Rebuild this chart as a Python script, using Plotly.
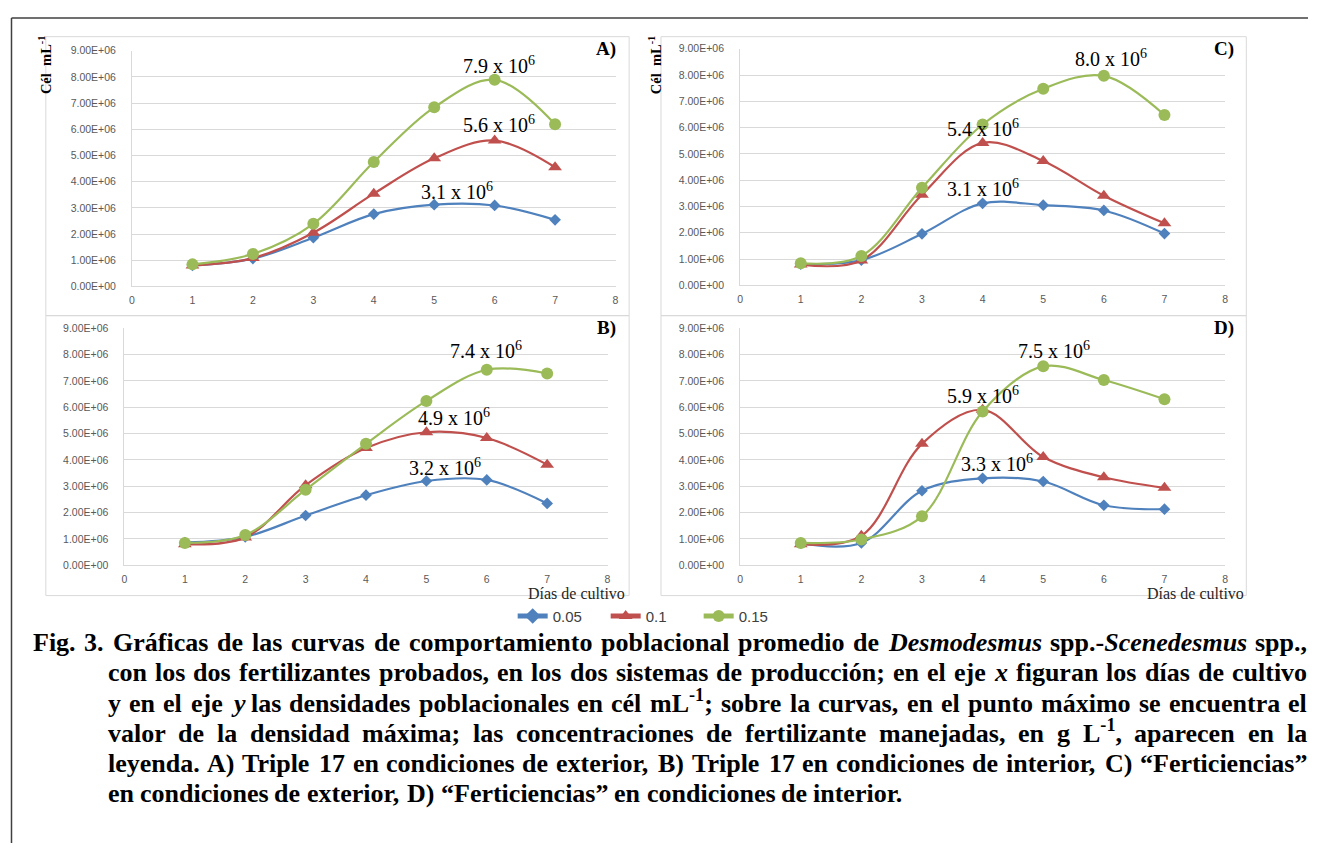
import re
import plotly.graph_objects as go

# ---------------- data ----------------
days = [1, 2, 3, 4, 5, 6, 7]
series_names = ["0.05", "0.1", "0.15"]

a_005 = [0.80e6, 1.06e6, 1.86e6, 2.76e6, 3.12e6, 3.09e6, 2.54e6]
a_01 = [0.80e6, 1.08e6, 2.05e6, 3.54e6, 4.89e6, 5.57e6, 4.55e6]
a_015 = [0.84e6, 1.24e6, 2.39e6, 4.75e6, 6.84e6, 7.89e6, 6.19e6]

b_005 = [0.86e6, 1.08e6, 1.89e6, 2.66e6, 3.20e6, 3.24e6, 2.35e6]
b_01 = [0.80e6, 1.06e6, 3.04e6, 4.45e6, 5.05e6, 4.83e6, 3.82e6]
b_015 = [0.85e6, 1.15e6, 2.87e6, 4.61e6, 6.24e6, 7.42e6, 7.28e6]

c_005 = [0.81e6, 0.96e6, 1.96e6, 3.12e6, 3.05e6, 2.85e6, 1.97e6]
c_01 = [0.79e6, 0.95e6, 3.45e6, 5.42e6, 4.73e6, 3.41e6, 2.36e6]
c_015 = [0.84e6, 1.12e6, 3.71e6, 6.12e6, 7.48e6, 7.97e6, 6.48e6]

d_005 = [0.84e6, 0.85e6, 2.83e6, 3.30e6, 3.18e6, 2.28e6, 2.13e6]
d_01 = [0.80e6, 1.12e6, 4.61e6, 5.90e6, 4.11e6, 3.34e6, 2.94e6]
d_015 = [0.85e6, 0.98e6, 1.86e6, 5.84e6, 7.55e6, 7.03e6, 6.30e6]

x_ticks = [0, 1, 2, 3, 4, 5, 6, 7, 8]
y_ticks = [0, 1e6, 2e6, 3e6, 4e6, 5e6, 6e6, 7e6, 8e6, 9e6]
y_tick_labels = ["0.00E+00", "1.00E+06", "2.00E+06", "3.00E+06", "4.00E+06",
                 "5.00E+06", "6.00E+06", "7.00E+06", "8.00E+06", "9.00E+06"]

peak_labels_a = ["7.9 x 10<sup>6</sup>", "5.6 x 10<sup>6</sup>", "3.1 x 10<sup>6</sup>"]
peak_labels_b = ["7.4 x 10<sup>6</sup>", "4.9 x 10<sup>6</sup>", "3.2 x 10<sup>6</sup>"]
peak_labels_c = ["8.0 x 10<sup>6</sup>", "5.4 x 10<sup>6</sup>", "3.1 x 10<sup>6</sup>"]
peak_labels_d = ["7.5 x 10<sup>6</sup>", "5.9 x 10<sup>6</sup>", "3.3 x 10<sup>6</sup>"]

caption_lines = [
    "Fig. 3. Gráficas de las curvas de comportamiento poblacional promedio de <i>Desmodesmus</i> spp.-<i>Scenedesmus</i> spp.,",
    "con los dos fertilizantes probados, en los dos sistemas de producción; en el eje <i>x</i> figuran los días de cultivo",
    "y en el eje <i>y</i> las densidades poblacionales en cél mL<sup>-1</sup>; sobre la curvas, en el punto máximo se encuentra el",
    "valor de la densidad máxima; las concentraciones de fertilizante manejadas, en g L<sup>-1</sup>, aparecen en la",
    "leyenda. A) Triple 17 en condiciones de exterior, B) Triple 17 en condiciones de interior, C) “Ferticiencias”",
    "en condiciones de exterior, D) “Ferticiencias” en condiciones de interior.",
]

# ---------------- layout helpers ----------------
VW, VH = 1319, 857          # browser window
OFF = 8                     # default page margin around the figure div
W, H = VW - 2 * OFF, VH - 2 * OFF


def px(x):
    return (x - OFF) / W


def py(y):
    return 1 - (y - OFF) / H


colors = ["#4F81BD", "#C0504D", "#9BBB59"]
symbols = ["diamond", "triangle-up", "circle"]
msizes = [9, 12, 12]

panels = [
    dict(name="A", xa="x", ya="y", xl=129.6, xr=615.3, yb=284.3, yt=45.3,
         data=(a_005, a_01, a_015), labels=peak_labels_a,
         lpos=[(6.08, 8.45e6), (6.08, 6.19e6), (5.38, 3.66e6)],
         box=(43, 31, 629, 314), letter=(618, 43), ytitle=(42, 60), xtitle=None),
    dict(name="C", xa="x2", ya="y2", xl=740.5, xr=1227.7, yb=283.3, yt=43.3,
         data=(c_005, c_01, c_015), labels=peak_labels_c,
         lpos=[(6.12, 8.64e6), (4.0, 5.97e6), (4.0, 3.72e6)],
         box=(661, 31, 1249, 314), letter=(1239, 43), ytitle=(655, 60), xtitle=None),
    dict(name="B", xa="x3", ya="y3", xl=122.0, xr=607.3, yb=567.3, yt=326.7,
         data=(b_005, b_01, b_015), labels=peak_labels_b,
         lpos=[(5.98, 8.17e6), (5.46, 5.62e6), (5.31, 3.75e6)],
         box=(43, 314, 629, 598), letter=(618, 327), ytitle=None, xtitle=(576, 596)),
    dict(name="D", xa="x4", ya="y4", xl=740.5, xr=1227.7, yb=567.3, yt=326.7,
         data=(d_005, d_01, d_015), labels=peak_labels_d,
         lpos=[(5.18, 8.17e6), (4.0, 6.45e6), (4.24, 3.90e6)],
         box=(661, 314, 1249, 598), letter=(1239, 327), ytitle=None, xtitle=(1198, 596)),
]

fig = go.Figure()
shapes = []
annotations = []
layout_axes = {}

tickfont = dict(family="Liberation Sans", size=10.5, color="#595959")
serif = "Liberation Serif"

for i, p in enumerate(panels):
    bx0, by0, bx1, by1 = p["box"]
    shapes.append(dict(type="rect", xref="paper", yref="paper",
                       x0=px(bx0), x1=px(bx1), y0=py(by1), y1=py(by0),
                       line=dict(color="#d9d9d9", width=1), fillcolor="rgba(0,0,0,0)",
                       layer="below"))
    for s, vals in enumerate(p["data"]):
        fig.add_trace(go.Scatter(
            x=days, y=vals, name=series_names[s], xaxis=p["xa"], yaxis=p["ya"],
            mode="lines+markers",
            line=dict(color=colors[s], width=2.2, shape="spline", smoothing=1),
            marker=dict(symbol=symbols[s], size=msizes[s], color=colors[s]),
            showlegend=(i == 0), cliponaxis=False,
        ))
    xkey = "xaxis" + p["xa"][1:]
    ykey = "yaxis" + p["ya"][1:]
    layout_axes[xkey] = dict(
        domain=[px(p["xl"]), px(p["xr"])], range=[0, 8], tickvals=x_ticks,
        showgrid=False, zeroline=False, showline=True, linecolor="#d9d9d9", linewidth=1,
        ticks="", tickfont=tickfont, ticklabelstandoff=4, anchor=p["ya"], fixedrange=True)
    layout_axes[ykey] = dict(
        domain=[py(p["yb"]), py(p["yt"])], range=[0, 9e6], tickvals=y_ticks,
        ticktext=y_tick_labels, showgrid=True, gridcolor="#d9d9d9", gridwidth=1,
        zeroline=False, showline=True, linecolor="#d9d9d9", linewidth=1,
        ticks="", tickfont=tickfont, ticklabelstandoff=13, anchor=p["xa"], fixedrange=True)
    for lab, (lx, ly) in zip(p["labels"], p["lpos"]):
        annotations.append(dict(xref=p["xa"], yref=p["ya"], x=lx, y=ly, text=lab,
                                showarrow=False, xanchor="center", yanchor="middle",
                                font=dict(family=serif, size=20, color="#000000")))
    lx, ly = p["letter"]
    annotations.append(dict(xref="paper", yref="paper", x=px(lx), y=py(ly),
                            text="<b>%s)</b>" % p["name"], showarrow=False,
                            xanchor="right", yanchor="middle",
                            font=dict(family=serif, size=19, color="#000000")))
    if p["ytitle"]:
        tx, ty = p["ytitle"]
        annotations.append(dict(xref="paper", yref="paper", x=px(tx), y=py(ty),
                                text="<b>Cél  mL<sup>-1</sup></b>", showarrow=False,
                                textangle=-90, xanchor="center", yanchor="middle",
                                font=dict(family=serif, size=14.5, color="#000000")))
    if p["xtitle"]:
        tx, ty = p["xtitle"]
        annotations.append(dict(xref="paper", yref="paper", x=px(tx), y=py(ty),
                                text="Días de cultivo", showarrow=False,
                                xanchor="center", yanchor="middle",
                                font=dict(family=serif, size=16, color="#262626")))

# outer frame (top and left edges)
shapes.append(dict(type="line", xref="paper", yref="paper", x0=px(8.5), x1=1.0,
                   y0=py(12), y1=py(12), line=dict(color="#404040", width=1.5)))
shapes.append(dict(type="line", xref="paper", yref="paper", x0=px(8.5), x1=px(8.5),
                   y0=py(12), y1=0.0, line=dict(color="#404040", width=1.5)))

# ---------------- caption (justified, Times-Bold metrics) ----------------
BOLD = {
    ' ': 250, '.': 250, ',': 250, ';': 333, ':': 333, '-': 333, '(': 333, ')': 333,
    '“': 500, '”': 500, 'á': 500, 'é': 444, 'í': 278, 'ó': 500, 'ú': 556, 'ñ': 556,
    'a': 500, 'b': 556, 'c': 444, 'd': 556, 'e': 444, 'f': 333, 'g': 500, 'h': 556,
    'i': 278, 'j': 333, 'k': 556, 'l': 278, 'm': 833, 'n': 556, 'o': 500, 'p': 556,
    'q': 556, 'r': 444, 's': 389, 't': 333, 'u': 556, 'v': 500, 'w': 722, 'x': 500,
    'y': 500, 'z': 444,
    'A': 722, 'B': 667, 'C': 722, 'D': 722, 'E': 667, 'F': 611, 'G': 778, 'H': 778,
    'I': 389, 'J': 500, 'K': 778, 'L': 667, 'M': 944, 'N': 722, 'O': 778, 'P': 611,
    'Q': 778, 'R': 722, 'S': 556, 'T': 667, 'U': 722, 'V': 722, 'W': 1000, 'X': 722,
    'Y': 722, 'Z': 667,
}
for dgt in "0123456789":
    BOLD[dgt] = 500
BOLDI = {
    'a': 500, 'b': 500, 'c': 444, 'd': 500, 'e': 444, 'f': 333, 'g': 500, 'h': 556,
    'i': 278, 'j': 278, 'k': 500, 'l': 278, 'm': 778, 'n': 556, 'o': 500, 'p': 500,
    'q': 500, 'r': 389, 's': 389, 't': 278, 'u': 556, 'v': 444, 'w': 667, 'x': 500,
    'y': 444, 'z': 389, 'D': 722, 'S': 556,
}


def text_width(s, size):
    w = 0.0
    ital = False
    sup = False
    for tok in re.split(r"(<[^>]+>)", s):
        if tok.startswith("<"):
            t = tok.lower()
            if t == "<i>":
                ital = True
            elif t == "</i>":
                ital = False
            elif t == "<sup>":
                sup = True
            elif t == "</sup>":
                sup = False
            continue
        for ch in tok:
            table = BOLDI if ital else BOLD
            cw = table.get(ch, BOLD.get(ch, 500))
            w += cw * (0.7 if sup else 1.0)
    return w / 1000.0 * size


cap_size = 26
line_left = [30, 105, 105, 105, 105, 105]
line_right = 1310
justify = [True, True, True, True, True, False]
base0, line_step = 655, 30.6
descent = 0.216 * cap_size + 1

for li, line in enumerate(caption_lines):
    words = line.split(" ")
    widths = [text_width(wd, cap_size) for wd in words]
    if justify[li] and len(words) > 1:
        gap = (line_right - line_left[li] - sum(widths)) / (len(words) - 1)
    else:
        gap = BOLD[' '] / 1000.0 * cap_size
    xcur = line_left[li]
    ybottom = base0 + li * line_step + descent
    for wd, ww in zip(words, widths):
        annotations.append(dict(xref="paper", yref="paper", x=px(xcur - 1), y=py(ybottom),
                                text="<b>%s</b>" % wd, showarrow=False,
                                xanchor="left", yanchor="bottom", borderpad=0,
                                font=dict(family=serif, size=cap_size, color="#000000")))
        xcur += ww + gap

fig.update_layout(
    width=W, height=H, margin=dict(l=0, r=0, t=0, b=0),
    paper_bgcolor="#ffffff", plot_bgcolor="#ffffff",
    shapes=shapes, annotations=annotations,
    legend=dict(orientation="h", x=px(512), y=py(619), xanchor="left", yanchor="middle",
                font=dict(family="Liberation Sans", size=15, color="#404040"),
                bgcolor="rgba(0,0,0,0)", entrywidth=48, entrywidthmode="pixels",
                itemsizing="constant"),
    showlegend=True,
    **layout_axes,
)

fig.write_html("out.html")
